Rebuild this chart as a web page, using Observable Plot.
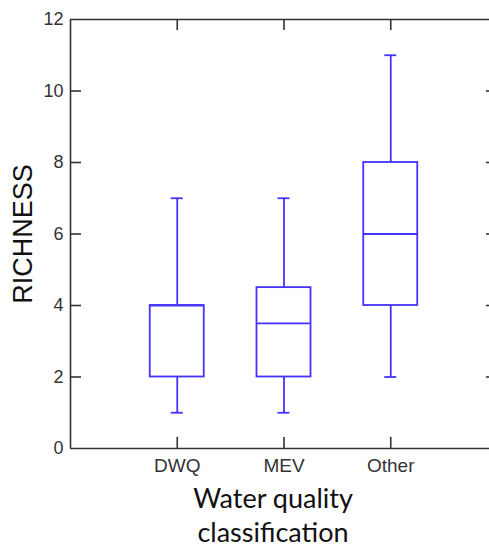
<!DOCTYPE html>
<html>
<head>
<meta charset="utf-8">
<script src="https://cdn.jsdelivr.net/npm/d3@7"></script>
<script src="https://cdn.jsdelivr.net/npm/@observablehq/plot@0.6"></script>
<style>
  body { margin: 0; background: #fff; }
  #chart { width: 489px; height: 547px; overflow: hidden; }
</style>
</head>
<body>
<div id="chart"></div>
<script>
const categories = ["DWQ", "MEV", "Other"];
const mins    = [1, 1, 2];
const q1s     = [2, 2, 4];
const medians = [4, 3.5, 6];
const q3s     = [4, 4.5, 8];
const maxs    = [7, 7, 11];
const yTicks  = [0, 2, 4, 6, 8, 10, 12];
const yLabel  = "RICHNESS";
const xLabel  = "Water quality\nclassification";

const positions = categories.map((c, i) => i + 1);
const boxes = categories.map((c, i) => ({
  cat: c, pos: i + 1, min: mins[i], q1: q1s[i], median: medians[i], q3: q3s[i], max: maxs[i]
}));

const blue = "#4433ff";
const axisColor = "#333";
const xMax = categories.length + 1;
const yMax = 12;
// half widths / tick lengths in data units (x unit ≈ 106.75 px, y unit ≈ 35.75 px)
const boxHalf = 0.253;
const capHalf = 0.056;
const tickX = 0.103;
const tickY = 0.31;
const innerY = yTicks.filter(d => d > 0 && d < yMax);

const chart = Plot.plot({
  width: 489,
  height: 547,
  marginLeft: 70,
  marginRight: -8,
  marginTop: 19,
  marginBottom: 99,
  style: { fontFamily: "'Liberation Sans', Arial, sans-serif", background: "#fff", color: axisColor },
  x: { type: "linear", domain: [0, xMax] },
  y: { domain: [0, yMax] },
  marks: [
    Plot.ruleY([0, yMax], { stroke: axisColor, strokeWidth: 1.6 }),
    Plot.ruleX([0], { stroke: axisColor, strokeWidth: 1.6 }),
    Plot.axisY({ anchor: "left", ticks: yTicks, tickSize: 0, tickPadding: 7, fontSize: 18, fill: axisColor, label: null }),
    Plot.axisX({ anchor: "bottom", ticks: positions, tickFormat: d => categories[d - 1], tickSize: 0, tickPadding: 10, fontSize: 19, letterSpacing: "0.5px", fill: axisColor, label: null }),
    // inward ticks on all four sides
    Plot.ruleY(innerY, { y: d => d, x1: 0, x2: tickX, stroke: axisColor, strokeWidth: 1.6 }),
    Plot.ruleY(innerY, { y: d => d, x1: xMax - tickX, x2: xMax, stroke: axisColor, strokeWidth: 1.6 }),
    Plot.ruleX(positions, { x: d => d, y1: 0, y2: tickY, stroke: axisColor, strokeWidth: 1.6 }),
    Plot.ruleX(positions, { x: d => d, y1: yMax - tickY, y2: yMax, stroke: axisColor, strokeWidth: 1.6 }),
    // box plots
    Plot.ruleX(boxes, { x: "pos", y1: "min", y2: "q1", stroke: blue, strokeWidth: 1.8 }),
    Plot.ruleX(boxes, { x: "pos", y1: "q3", y2: "max", stroke: blue, strokeWidth: 1.8 }),
    Plot.ruleY(boxes, { y: "min", x1: d => d.pos - capHalf, x2: d => d.pos + capHalf, stroke: blue, strokeWidth: 1.8 }),
    Plot.ruleY(boxes, { y: "max", x1: d => d.pos - capHalf, x2: d => d.pos + capHalf, stroke: blue, strokeWidth: 1.8 }),
    Plot.rect(boxes, { x1: d => d.pos - boxHalf, x2: d => d.pos + boxHalf, y1: "q1", y2: "q3", fill: "none", stroke: blue, strokeWidth: 1.8 }),
    Plot.ruleY(boxes, { y: "median", x1: d => d.pos - boxHalf, x2: d => d.pos + boxHalf, stroke: blue, strokeWidth: 1.8 }),
    // titles
    Plot.text([yLabel], { text: d => d, frameAnchor: "left", textAnchor: "middle", lineAnchor: "middle", rotate: -90, dx: -47, fontSize: 27, fill: "#111" }),
    Plot.text([xLabel], { text: d => d, frameAnchor: "bottom", lineAnchor: "middle", dx: -11, dy: 66, fontSize: 27, lineHeight: 1.26, fill: "#111", fontFamily: "Lato, 'Open Sans', sans-serif" })
  ]
});

document.getElementById("chart").appendChild(chart);
</script>
</body>
</html>
